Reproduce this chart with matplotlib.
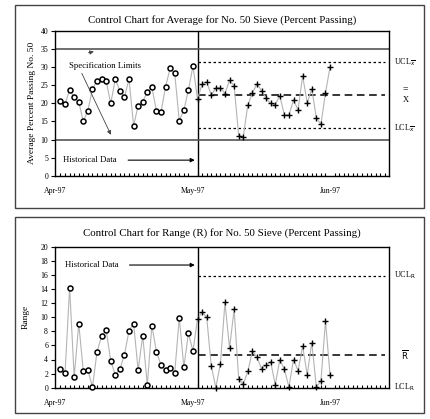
import numpy as np
import matplotlib.pyplot as plt
from matplotlib.patches import Rectangle

plt.rcParams['font.family'] = ['Liberation Serif', 'DejaVu Serif']

# daily sample averages, April (historical) and May (new)
hist_avg = [20.7, 19.8, 23.7, 21.7, 20.3, 15.0, 18.0, 24.0, 26.2, 26.8,
            26.1, 20.0, 26.7, 23.4, 21.7, 26.7, 13.8, 19.4, 20.5, 23.2,
            24.4, 18.0, 17.6, 24.6, 29.7, 28.3, 15.2, 18.1, 23.7, 30.3]
new_avg = [21.1, 25.4, 26.0, 22.2, 24.3, 24.3, 22.7, 26.4, 24.9, 11.0,
           10.8, 19.5, 22.9, 25.4, 23.5, 21.4, 20.0, 19.6, 22.1, 16.8,
           16.8, 20.9, 18.2, 27.6, 20.1, 24.0, 16.0, 14.2, 22.9, 30.1]

# daily ranges
hist_range = [2.7, 2.1, 14.2, 1.5, 9.1, 2.3, 2.5, 0.1, 5.1, 7.3,
              8.2, 3.8, 1.8, 2.6, 4.7, 8.1, 9.1, 2.5, 7.4, 0.4,
              8.8, 5.1, 3.2, 2.5, 2.8, 2.1, 9.9, 2.9, 7.7, 5.2]
new_range = [9.8, 10.7, 10.0, 3.1, 0.0, 3.4, 12.1, 5.6, 11.1, 1.3,
             0.5, 2.3, 5.2, 4.3, 2.7, 3.2, 3.7, 0.4, 4.0, 2.6,
             0.1, 4.0, 2.4, 5.9, 1.8, 6.4, 0.1, 0.9, 9.5, 1.8]

spec_limits = [35, 10]
avg_limits = {'ucl': 31.3, 'cl': 22.2, 'lcl': 13.1}
range_limits = {'ucl': 15.9, 'cl': 4.7, 'lcl': 0.0}

month_labels = ['Apr-97', 'May-97', 'Jun-97']

n_hist = len(hist_avg)
x_hist = np.arange(n_hist)
x_new = np.arange(n_hist, n_hist + len(new_avg))
x_all = np.concatenate([x_hist, x_new])
split = n_hist

W, H = 431, 419
fig = plt.figure(figsize=(W / 100, H / 100), dpi=100)

# panel frames
for (y0, y1) in [(5, 208), (217, 413)]:
    fig.add_artist(Rectangle((15 / W, 1 - y1 / H), 409 / W, (y1 - y0) / H,
                             transform=fig.transFigure, fill=False,
                             edgecolor='#444444', linewidth=1.0))

ax1 = fig.add_axes([55 / W, 1 - 175.7 / H, 334 / W, 144.7 / H])
ax2 = fig.add_axes([55 / W, 1 - 387.7 / H, 334 / W, 141 / H])

gray = '#b4b4b4'


def style_axis(ax):
    ax.set_xlim(-1.1, 71.9)
    ax.set_xticks([-1.2, 29, 59])
    ax.set_xticklabels(month_labels)
    ax.set_xticks(np.arange(0, 72), minor=True)
    ax.tick_params(axis='x', which='major', length=0, pad=8, labelsize=5.6)
    ax.tick_params(axis='x', which='minor', direction='in', length=2, width=0.8)
    ax.tick_params(axis='y', direction='out', length=3, width=0.8,
                   labelsize=5.6, pad=2)
    for s in ax.spines.values():
        s.set_linewidth(1.0)
    ax.axvline(split, color='black', linewidth=1.0)


# --- average chart ---
ax = ax1
style_axis(ax)
ax.set_ylim(0, 40)
ax.set_yticks(np.arange(0, 41, 5))
for v in spec_limits:
    ax.axhline(v, color='#555555', linewidth=1.2)
ax.plot([split, 71], [avg_limits['ucl']] * 2, color='black', lw=0.9, ls=(0, (2, 2)))
ax.plot([split, 71], [avg_limits['cl']] * 2, color='black', lw=1.1, ls=(0, (5, 3)))
ax.plot([split, 71], [avg_limits['lcl']] * 2, color='black', lw=0.9, ls=(0, (2, 2)))
ax.plot(x_all, hist_avg + new_avg, color=gray, lw=0.8, zorder=2)
ax.plot(x_hist, hist_avg, 'o', ms=3.6, mfc='white', mec='black', mew=1.1, zorder=3)
ax.plot(x_new, new_avg, '+', ms=4, mec='black', mew=1.0, zorder=3)
ax.set_ylabel('Average Percent Passing No. 50', fontsize=6.8, labelpad=3)
ax.set_title('Control Chart for Average for No. 50 Sieve (Percent Passing)',
             fontsize=7.8, pad=6)
ax.text(1.8, 30.4, 'Specification Limits', fontsize=6.3, va='center')
arrow = dict(arrowstyle='-|>', color='#444444', lw=0.6, mutation_scale=6)
ax.annotate('', xy=(7.9, 34.5), xytext=(5.5, 33.8), arrowprops=arrow)
ax.annotate('', xy=(11.3, 10.6), xytext=(4.4, 29.0), arrowprops=arrow)
ax.text(0.6, 4.3, 'Historical Data', fontsize=6.3, va='center')
ax.annotate('', xy=(split, 4.3), xytext=(14.2, 4.3),
            arrowprops=dict(arrowstyle='-|>', color='black', lw=0.8, mutation_scale=6))
ax.text(1.015, avg_limits['ucl'], r'UCL$_{\overline{x}}$', transform=ax.get_yaxis_transform(),
        fontsize=5.8, va='center')
ax.text(1.04, avg_limits['cl'] + 1.8, '=', transform=ax.get_yaxis_transform(),
        fontsize=7, va='center')
ax.text(1.04, avg_limits['cl'] - 1.3, 'X', transform=ax.get_yaxis_transform(),
        fontsize=6, va='center')
ax.text(1.015, avg_limits['lcl'], r'LCL$_{\overline{x}}$', transform=ax.get_yaxis_transform(),
        fontsize=5.8, va='center')

# --- range chart ---
ax = ax2
style_axis(ax)
ax.set_ylim(0, 20)
ax.set_yticks(np.arange(0, 21, 2))
ax.plot([split, 71], [range_limits['ucl']] * 2, color='black', lw=0.9, ls=(0, (2, 2)))
ax.plot([split, 71], [range_limits['cl']] * 2, color='black', lw=1.1, ls=(0, (5, 3)))
ax.plot(x_all, hist_range + new_range, color=gray, lw=0.8, zorder=2)
ax.plot(x_hist, hist_range, 'o', ms=3.6, mfc='white', mec='black', mew=1.1, zorder=3,
        clip_on=False)
ax.plot(x_new, new_range, '+', ms=4, mec='black', mew=1.0, zorder=3, clip_on=False)
ax.set_ylabel('Range', fontsize=6.8, labelpad=8)
ax.set_title('Control Chart for Range (R) for No. 50 Sieve (Percent Passing)',
             fontsize=7.8, pad=8)
ax.text(1.0, 17.4, 'Historical Data', fontsize=6.3, va='center')
ax.annotate('', xy=(split, 17.4), xytext=(14.5, 17.4),
            arrowprops=dict(arrowstyle='-|>', color='black', lw=0.8, mutation_scale=6))
ax.text(1.015, range_limits['ucl'], r'UCL$_{\mathrm{R}}$', transform=ax.get_yaxis_transform(),
        fontsize=5.8, va='center')
ax.text(1.035, range_limits['cl'], r'$\overline{\mathrm{R}}$', transform=ax.get_yaxis_transform(),
        fontsize=6, va='center')
ax.text(1.015, range_limits['lcl'], r'LCL$_{\mathrm{R}}$', transform=ax.get_yaxis_transform(),
        fontsize=5.8, va='center')

fig.savefig('out.png', dpi=100)
